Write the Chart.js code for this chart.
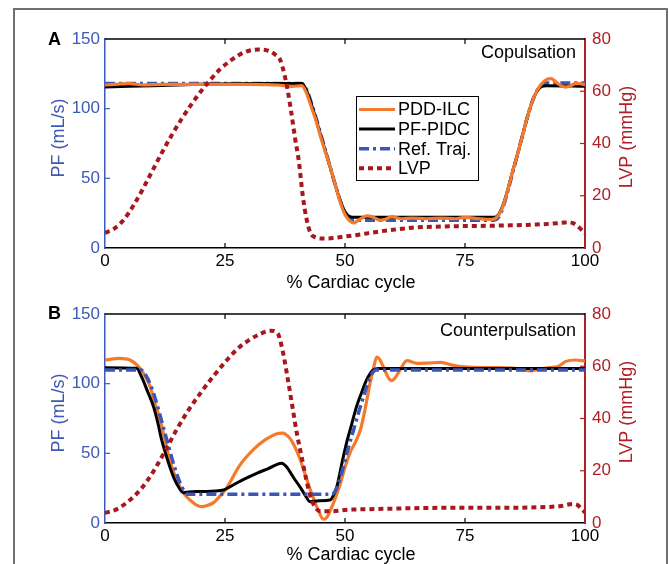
<!DOCTYPE html>
<html>
<head>
<meta charset="utf-8">
<title>PF and LVP over the cardiac cycle</title>
<script src="https://cdn.jsdelivr.net/npm/chart.js@4.4.1/dist/chart.umd.min.js"></script>
<style>
    html, body { margin: 0; padding: 0; background: #fff; }
    #page { position: relative; width: 669px; height: 564px; overflow: hidden; background: #fff; }
    #frame { position: absolute; left: 13px; top: 8px; width: 655px; height: 620px; border: 2px solid #707070; box-sizing: border-box; }
    canvas { position: absolute; left: 0; }
    #chartA { top: 0; }
    #chartB { top: 275px; }
</style>
</head>
<body>
<div id="page">
    <div id="frame"></div>
    <canvas id="chartA" width="669" height="295"></canvas>
    <canvas id="chartB" width="669" height="289"></canvas>
</div>
<script>
// axis ticks
const cycleTicks = [0, 25, 50, 75, 100];
const flowTicks = [0, 50, 100, 150];
const lvpTicks = [0, 20, 40, 60, 80];
const seriesNames = ['PDD-ILC', 'PF-PIDC', 'Ref. Traj.', 'LVP'];

// A: copulsation
const pddCopX = [0, 2, 5, 8, 12, 20, 30, 36, 39, 41, 42, 43, 44, 45, 46, 47, 48, 49, 50, 51, 51.8, 52.6, 53.5, 54.6, 55.6, 56.5, 57.3, 58.3, 59.8, 61, 62, 64, 67, 70, 73, 75, 78, 80.5, 82, 83, 84, 85, 86, 87, 88, 89, 90, 91, 92, 93, 94, 95, 96, 97, 98, 99, 100];
const pddCopY = [117, 117.5, 118, 117, 117.5, 117.5, 117.5, 117, 116, 116.5, 111, 101, 91, 79, 68, 57, 45, 33, 24, 19.5, 18, 19.5, 21.5, 23, 22.5, 21, 19.8, 20.5, 22.5, 21.5, 21, 21.5, 21, 21.5, 21, 22, 21, 20.5, 23.5, 31, 43, 56, 68, 81, 94, 105, 113, 118, 121, 121.5, 119, 116.5, 115.5, 116.5, 118, 118, 117];
const pidcCopX = [0, 10, 20, 30, 40, 41, 42, 43, 44, 45, 46, 47, 48, 49, 50, 51, 52, 60, 70, 80, 81, 82, 83, 84, 85, 86, 87, 88, 89, 90, 91, 92, 100];
const pidcCopY = [115.5, 116.5, 117.5, 118, 118, 118, 113, 103, 92, 80, 68.5, 57, 45, 34, 26, 22.5, 22, 22, 22, 22, 22, 24, 31.5, 43, 56, 68, 81, 94, 105, 112.5, 116, 116.5, 116];
const refCopX = [0, 41, 42, 43, 44, 45, 46, 47, 48, 49, 50, 51, 52, 81, 82, 83, 84, 85, 86, 87, 88, 89, 90, 91, 92, 100];
const refCopY = [118, 118, 113.5, 104, 93, 81, 69, 57, 45, 34, 25, 21, 20, 20, 22, 30, 42, 55, 68, 81, 94, 105, 113, 117.5, 118.5, 118.5];
const lvpCopX = [0, 2, 4, 6, 8, 10, 12, 14, 16, 18, 20, 22, 24, 26, 28, 30, 32, 34, 35.5, 36.5, 37.3, 38, 38.8, 39.6, 40.4, 41.2, 42, 42.8, 44, 45, 47.5, 50, 52.5, 55, 57.5, 60, 62.5, 65, 70, 75, 80, 85, 90, 93, 95, 96.5, 97.5, 98.5, 99.5, 100];
const lvpCopY = [5.8, 7.5, 11, 16.5, 23, 30, 37, 43.5, 49.5, 55, 60, 64.5, 68.5, 71.5, 74, 75.5, 76, 75.5, 74, 72, 67, 61, 52, 42, 33, 20, 11, 5.8, 4, 3.6, 3.8, 4.4, 5, 5.7, 6.4, 7, 7.5, 7.9, 8.2, 8.4, 8.5, 8.7, 9, 9.3, 9.6, 9.9, 9.5, 8.3, 6.5, 5.5];

// B: counterpulsation
const pddCntX = [0, 3, 5.2, 7.3, 8.4, 9.4, 10.4, 11.5, 12.5, 13.5, 14.5, 15.6, 16.7, 17.7, 19, 20.1, 21.3, 22.6, 24, 25.5, 28, 31, 33.5, 35.8, 37, 38.5, 39.5, 40.5, 41.5, 42.5, 43.5, 44.5, 45.5, 46.2, 47, 48, 49, 50, 51, 52.3, 53.3, 54.2, 55.2, 56, 56.6, 57.2, 58, 59, 59.7, 60.5, 61.5, 62.9, 65, 67, 70, 72.5, 75, 80, 85, 88.5, 90.5, 92.5, 94.5, 96, 98, 100];
const pddCntY = [117, 118.2, 117, 111, 105, 97.9, 86, 74, 59.5, 45.2, 34.5, 26, 20, 16.5, 13, 11.7, 12.5, 14.6, 19.5, 26, 41, 53, 60, 64, 64.5, 60.8, 55, 47, 37, 26.5, 17, 8.5, 2.7, 4, 9.5, 18, 28, 40, 50, 59, 68, 82, 100, 112, 119, 117.5, 112, 104.5, 102.2, 104.5, 110, 116.5, 114.6, 114.8, 115.3, 113.2, 112, 111.5, 111.2, 109.2, 110.5, 111.5, 112.5, 116, 117, 116.3];
const pidcCntX = [0, 6.6, 7.6, 8.8, 10.1, 11, 11.8, 12.7, 13.5, 14.4, 15.3, 16.3, 17.5, 20, 24.7, 26.7, 29, 31.6, 34, 36.8, 37.8, 39.2, 40.6, 41.7, 42.7, 44.5, 46.9, 47.6, 48.3, 49.3, 50.3, 51.4, 52.4, 53.5, 54.5, 55.9, 57, 100];
const pidcCntY = [111.5, 111, 105, 95, 83.5, 72, 59.6, 49, 40.4, 32, 26, 21.8, 22.3, 22.6, 23.7, 27.3, 31.5, 35.7, 39, 42.9, 40.4, 33, 26, 20, 15.3, 16, 16.5, 20, 26, 42, 57.2, 71, 83.5, 94, 102.7, 109.8, 110.8, 110.8];
const refCntX = [0, 7.5, 8.5, 9.5, 10.5, 11.5, 12.5, 13.5, 14.5, 15.5, 16.5, 17.3, 47.3, 48, 48.8, 49.7, 50.7, 51.8, 52.8, 53.8, 54.7, 55.5, 56.5, 100];
const refCntY = [109.8, 109.8, 106, 99, 89, 77, 64.5, 52, 40, 30, 23, 20.6, 20.6, 23, 30, 41, 54, 67, 79, 90, 100, 106.5, 109.8, 109.8];
const lvpCntX = [0, 2.5, 5, 7.5, 10, 12.5, 15, 17.5, 20, 22.5, 25, 27.5, 30, 32.5, 34.5, 36, 37, 38, 39, 40, 41, 42, 43, 44, 45, 47.5, 50, 55, 60, 70, 80, 90, 95, 97.5, 98.5, 99.5, 100];
const lvpCntY = [3.8, 5.3, 8.5, 13, 19.5, 27.5, 36, 43.5, 50, 56, 61.5, 66.5, 70, 72.5, 73.6, 72.5, 66, 56, 45, 34, 25, 16, 9, 5.5, 4.5, 4.5, 5, 5.3, 5.5, 5.8, 5.8, 6, 6.5, 7.3, 6.8, 5, 4];

const FONT = 'Arial, "Liberation Sans", Helvetica, sans-serif';
const BLUE = '#3d5ab6';
const RED = '#b01e26';
const ORANGE = '#f57a2b';

const toPoints = (xs, ys) => xs.map((x, i) => ({ x, y: ys[i] }));

// draws the box edge, inward ticks, legend and the text around the axes
const panelDecor = {
    id: 'panelDecor',
    beforeDatasetsDraw(chart) {
        const { ctx, chartArea: a, scales } = chart;
        const len = 5;
        ctx.save();
        ctx.lineWidth = 1.5;
        ctx.strokeStyle = '#000';
        ctx.beginPath();
        ctx.moveTo(a.left, a.top);
        ctx.lineTo(a.right, a.top);
        ctx.stroke();
        ctx.lineWidth = 1.2;
        cycleTicks.slice(1, -1).forEach((v) => {
            const x = scales.x.getPixelForValue(v);
            ctx.beginPath();
            ctx.moveTo(x, a.top);
            ctx.lineTo(x, a.top + len);
            ctx.moveTo(x, a.bottom);
            ctx.lineTo(x, a.bottom - len);
            ctx.stroke();
        });
        ctx.strokeStyle = BLUE;
        flowTicks.slice(1, -1).forEach((v) => {
            const y = scales.y.getPixelForValue(v);
            ctx.beginPath();
            ctx.moveTo(a.left, y);
            ctx.lineTo(a.left + len, y);
            ctx.stroke();
        });
        ctx.strokeStyle = RED;
        lvpTicks.slice(1, -1).forEach((v) => {
            const y = scales.y1.getPixelForValue(v);
            ctx.beginPath();
            ctx.moveTo(a.right, y);
            ctx.lineTo(a.right - len, y);
            ctx.stroke();
        });
        ctx.restore();
    },
    afterDatasetsDraw(chart, args, opts) {
        const { ctx, chartArea: a } = chart;
        ctx.save();
        ctx.font = `18px ${FONT}`;
        ctx.fillStyle = '#000';
        ctx.textAlign = 'right';
        ctx.textBaseline = 'alphabetic';
        ctx.fillText(opts.note, a.right - 9, opts.noteY);

        if (opts.legend) {
            const box = { x: 356, y: 96, w: 122, h: 84 };
            ctx.fillStyle = '#fff';
            ctx.fillRect(box.x, box.y, box.w, box.h);
            ctx.strokeStyle = '#000';
            ctx.lineWidth = 1;
            ctx.strokeRect(box.x + 0.5, box.y + 0.5, box.w, box.h);
            ctx.textAlign = 'left';
            ctx.textBaseline = 'middle';
            chart.data.datasets.forEach((ds, i) => {
                const y = box.y + 13.5 + i * 19.6;
                ctx.beginPath();
                ctx.setLineDash(ds.borderDash || []);
                ctx.strokeStyle = ds.borderColor;
                ctx.lineWidth = ds.borderWidth;
                ctx.moveTo(box.x + 3, y);
                ctx.lineTo(box.x + 39, y);
                ctx.stroke();
                ctx.setLineDash([]);
                ctx.fillStyle = '#000';
                ctx.fillText(ds.label, box.x + 42, y + 1);
            });
        }
        ctx.restore();
    },
    afterDraw(chart, args, opts) {
        const { ctx } = chart;
        ctx.save();
        ctx.font = `bold 18px ${FONT}`;
        ctx.fillStyle = '#000';
        ctx.textAlign = 'right';
        ctx.fillText(opts.letter, 61, opts.letterY);

        ctx.font = `18px ${FONT}`;
        ctx.textAlign = 'center';
        ctx.fillText('% Cardiac cycle', 351, opts.xTitleY);

        ctx.textBaseline = 'middle';
        ctx.fillStyle = BLUE;
        ctx.translate(59, 138);
        ctx.rotate(-Math.PI / 2);
        ctx.fillText('PF (mL/s)', 0, 0);
        ctx.restore();

        ctx.save();
        ctx.font = `18px ${FONT}`;
        ctx.textAlign = 'center';
        ctx.textBaseline = 'middle';
        ctx.fillStyle = RED;
        ctx.translate(627, 137);
        ctx.rotate(-Math.PI / 2);
        ctx.fillText('LVP (mmHg)', 0, 0);
        ctx.restore();
    },
};

const buildPanel = (canvasId, series, orders, decor) => {
    const canvas = document.getElementById(canvasId);
    if (!canvas) {
        return;
    }
    const lineBase = {
        pointRadius: 0,
        fill: false,
        tension: 0.4,
        cubicInterpolationMode: 'monotone',
        borderCapStyle: 'butt',
        borderJoinStyle: 'round',
    };

    new Chart(canvas, {
        type: 'line',
        data: {
            datasets: [
                { ...lineBase, label: seriesNames[0], data: toPoints(series.pddX, series.pddY), yAxisID: 'y', borderColor: ORANGE, borderWidth: 3.2, order: orders[0] },
                { ...lineBase, label: seriesNames[1], data: toPoints(series.pidcX, series.pidcY), yAxisID: 'y', borderColor: '#000', borderWidth: 3, order: orders[1] },
                { ...lineBase, label: seriesNames[2], data: toPoints(series.refX, series.refY), yAxisID: 'y', borderColor: '#3b56b4', borderWidth: 3.5, borderDash: [10, 4, 3, 4], order: orders[2] },
                { ...lineBase, label: seriesNames[3], data: toPoints(series.lvpX, series.lvpY), yAxisID: 'y1', borderColor: '#a8161e', borderWidth: 4, borderDash: [5, 4], order: orders[3] },
            ],
        },
        options: {
            responsive: false,
            animation: false,
            layout: { padding: { top: 39, left: 0, right: 0, bottom: 0 } },
            plugins: {
                legend: { display: false },
                tooltip: { enabled: false },
                panelDecor: decor,
            },
            scales: {
                x: {
                    type: 'linear',
                    position: 'bottom',
                    min: 0,
                    max: 100,
                    afterBuildTicks: (s) => { s.ticks = cycleTicks.map((value) => ({ value })); },
                    afterFit: (s) => { s.height = canvas.height - 248; },
                    ticks: { color: '#000', font: { family: FONT, size: 17 }, padding: 3, maxRotation: 0, autoSkip: false },
                    grid: { display: false, drawTicks: false },
                    border: { display: true, color: '#000', width: 1.5 },
                },
                y: {
                    type: 'linear',
                    position: 'left',
                    min: 0,
                    max: 150,
                    afterBuildTicks: (s) => { s.ticks = flowTicks.map((value) => ({ value })); },
                    afterFit: (s) => { s.width = 105; },
                    ticks: { color: BLUE, font: { family: FONT, size: 17 }, padding: 5 },
                    grid: { display: false, drawTicks: false },
                    border: { display: true, color: BLUE, width: 1.5 },
                },
                y1: {
                    type: 'linear',
                    position: 'right',
                    min: 0,
                    max: 80,
                    afterBuildTicks: (s) => { s.ticks = lvpTicks.map((value) => ({ value })); },
                    afterFit: (s) => { s.width = 84; },
                    ticks: { color: RED, font: { family: FONT, size: 17 }, padding: 7 },
                    grid: { display: false, drawTicks: false },
                    border: { display: true, color: RED, width: 2 },
                },
            },
        },
        plugins: [panelDecor],
    });
};

buildPanel('chartA', {
    pddX: pddCopX, pddY: pddCopY,
    pidcX: pidcCopX, pidcY: pidcCopY,
    refX: refCopX, refY: refCopY,
    lvpX: lvpCopX, lvpY: lvpCopY,
}, [1, 2, 3, 0], { letter: 'A', letterY: 45, note: 'Copulsation', noteY: 58, xTitleY: 288, legend: true });

buildPanel('chartB', {
    pddX: pddCntX, pddY: pddCntY,
    pidcX: pidcCntX, pidcY: pidcCntY,
    refX: refCntX, refY: refCntY,
    lvpX: lvpCntX, lvpY: lvpCntY,
}, [3, 2, 1, 0], { letter: 'B', letterY: 44, note: 'Counterpulsation', noteY: 61, xTitleY: 285, legend: false });
</script>
</body>
</html>
